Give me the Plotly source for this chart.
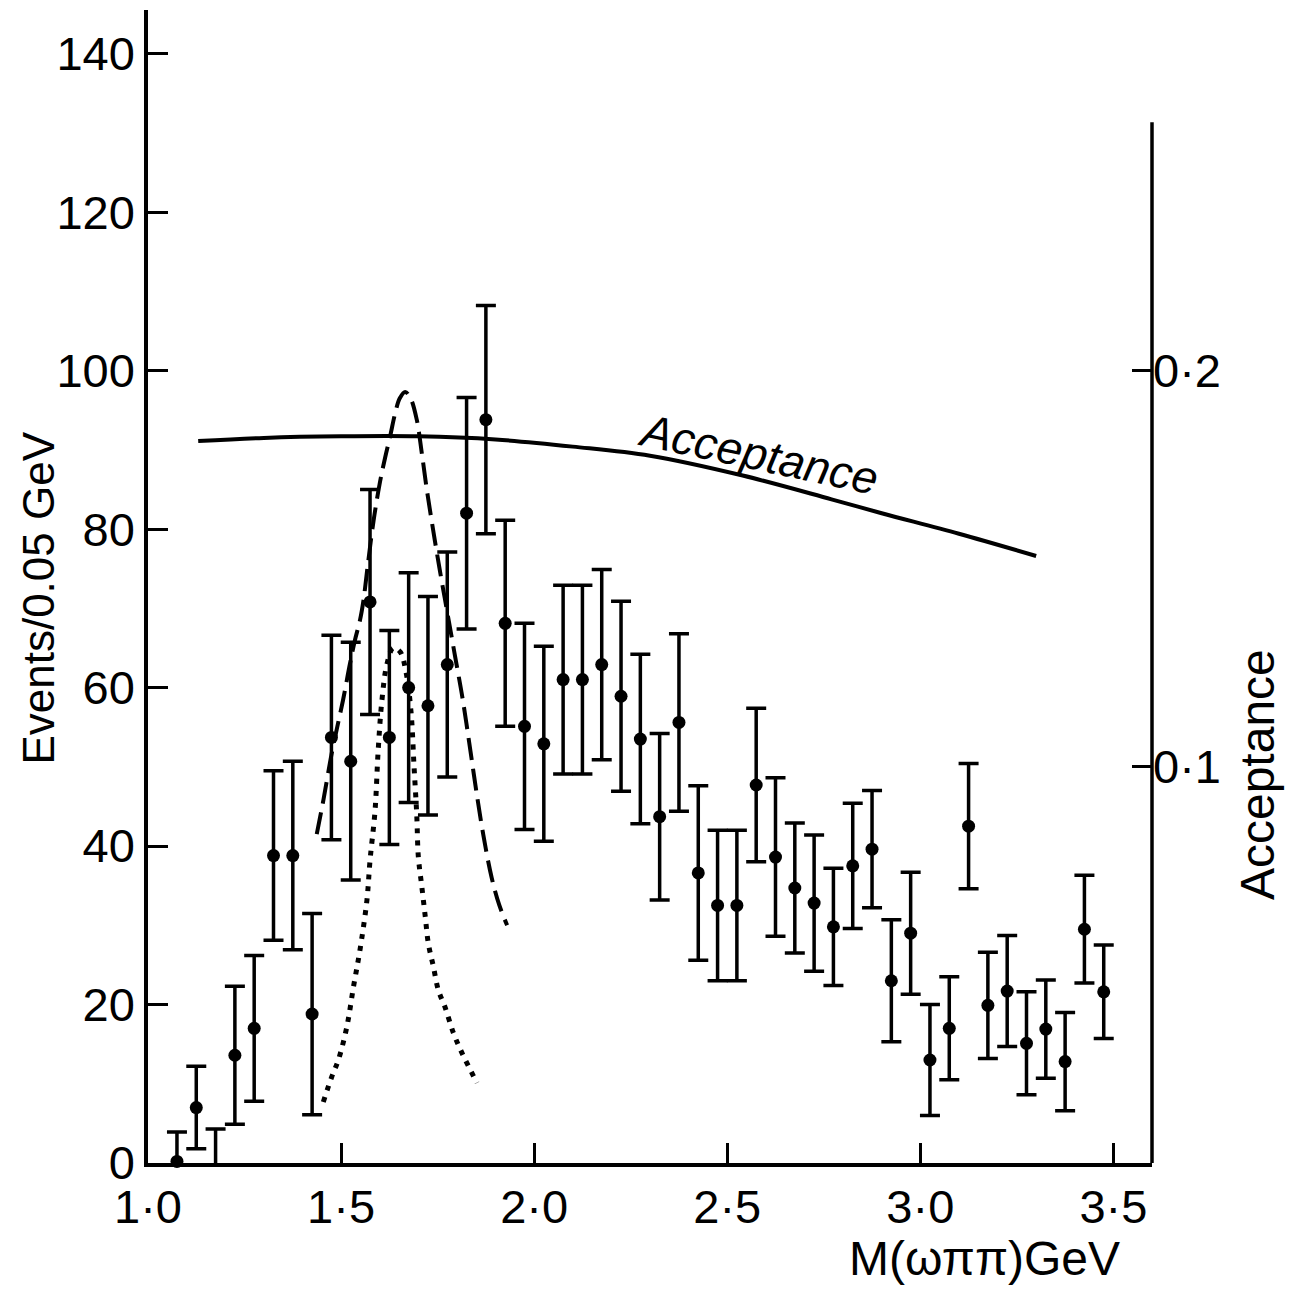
import plotly.graph_objects as go

# ---- data ----
mass = [1.075 + 0.05 * k for k in range(49)]
events = [0.2, 7.0, -1.5, 13.6, 17.0, 38.8, 38.8, 18.8, 53.7, 50.7,
          70.8, 53.7, 60.0, 57.7, 62.9, 82.0, 93.8, 68.1, 55.1, 52.9,
          61.0, 61.0, 62.9, 58.9, 53.5, 43.7, 55.6, 36.6, 32.5, 32.5,
          47.7, 38.6, 34.7, 32.8, 29.8, 37.5, 39.6, 23.0, 29.0, 13.0,
          17.0, 42.5, 19.9, 21.7, 15.1, 16.9, 12.8, 29.5, 21.6]
errors = [3.7, 5.2, 5.8, 8.7, 9.2, 10.7, 11.9, 12.7, 12.9, 15.0,
          14.2, 13.5, 14.5, 13.8, 14.2, 14.6, 14.4, 13.0, 13.0, 12.3,
          11.9, 11.9, 12.0, 12.0, 10.7, 10.5, 11.2, 11.0, 9.5, 9.5,
          9.7, 10.0, 8.2, 8.6, 7.4, 7.9, 7.4, 7.7, 7.7, 7.0,
          6.5, 7.9, 6.7, 7.0, 6.5, 6.2, 6.2, 6.8, 5.9]

dashed_mass = [1.437, 1.455, 1.475, 1.490, 1.505, 1.523, 1.536, 1.549, 1.558,
               1.568, 1.584, 1.601, 1.614, 1.627, 1.640, 1.652, 1.666, 1.680,
               1.696, 1.709, 1.722, 1.738, 1.755, 1.775, 1.795, 1.815, 1.835,
               1.850, 1.868, 1.890, 1.910, 1.930]
dashed_events = [41.5, 46.0, 51.5, 55.0, 58.4, 63.0, 66.0, 68.5, 71.0,
                 75.0, 81.0, 86.0, 89.0, 91.7, 94.6, 96.5, 97.3, 96.5,
                 93.8, 89.6, 85.0, 80.0, 75.0, 69.5, 64.0, 58.5, 52.0,
                 47.0, 41.5, 36.0, 32.5, 30.0]

dotted_mass = [1.454, 1.476, 1.493, 1.515, 1.532, 1.549, 1.567, 1.575, 1.588,
               1.596, 1.606, 1.619, 1.635, 1.653, 1.668, 1.681, 1.689, 1.696,
               1.700, 1.709, 1.718, 1.726, 1.739, 1.752, 1.769, 1.791, 1.813,
               1.852]
dotted_events = [7.7, 10.9, 13.0, 17.2, 22.2, 26.9, 33.2, 38.2, 44.5,
                 52.0, 58.5, 63.0, 65.0, 64.5, 62.0, 57.0, 50.0, 43.9,
                 38.7, 34.9, 31.1, 27.7, 24.8, 21.8, 19.7, 16.4, 13.9,
                 10.1]

acc_mass = [1.13, 1.30, 1.50, 1.70, 1.90, 2.10, 2.30, 2.54, 2.77, 2.90, 3.10, 3.30]
acceptance = [0.1822, 0.1830, 0.1834, 0.1834, 0.1826, 0.1808, 0.1785, 0.1735,
              0.1675, 0.1640, 0.1588, 0.1532]

x_ticks = [1.0, 1.5, 2.0, 2.5, 3.0, 3.5]
x_ticktext = ["1·0", "1·5", "2·0", "2·5", "3·0", "3·5"]
y_ticks = [0, 20, 40, 60, 80, 100, 120, 140]
y2_ticks = [0.1, 0.2]
y2_ticktext = ["0·1", "0·2"]

FONT = "Liberation Sans, Arial, sans-serif"
BLACK = "black"

fig = go.Figure()

fig.add_trace(go.Scatter(x=acc_mass, y=acceptance, yaxis="y2", mode="lines",
                         line=dict(color=BLACK, width=4, shape="spline"),
                         hoverinfo="skip"))
fig.add_trace(go.Scatter(x=dashed_mass, y=dashed_events, mode="lines",
                         line=dict(color=BLACK, width=4, dash="22px,9px", shape="spline"),
                         hoverinfo="skip"))
fig.add_trace(go.Scatter(x=dotted_mass, y=dotted_events, mode="lines",
                         line=dict(color=BLACK, width=5, dash="5px,7px", shape="spline"),
                         hoverinfo="skip"))
fig.add_trace(go.Scatter(x=mass, y=events, mode="markers",
                         marker=dict(color=BLACK, size=13, symbol="circle"),
                         error_y=dict(type="data", array=errors, visible=True,
                                      color=BLACK, thickness=3.5, width=10),
                         cliponaxis=False))

axis_common = dict(showgrid=False, zeroline=False, ticks="inside", ticklen=20,
                   tickwidth=3, tickcolor=BLACK,
                   tickfont=dict(family=FONT, size=47, color=BLACK))

# page has an 8px body margin: figure is shrunk so it fits the window
fig.update_layout(
    width=1283, height=1281,
    margin=dict(l=140, r=139, t=2, b=126),
    plot_bgcolor="white", paper_bgcolor="white",
    showlegend=False,
    xaxis=dict(range=[1.0, 3.6], tickvals=x_ticks, ticktext=x_ticktext,
               showline=True, linewidth=3.5, linecolor=BLACK, **axis_common),
    yaxis=dict(range=[0, 145.5], tickvals=y_ticks,
               showline=True, linewidth=3.5, linecolor=BLACK, **axis_common),
    yaxis2=dict(range=[0, 0.291], tickvals=y2_ticks, ticktext=y2_ticktext,
                overlaying="y", side="right", showline=False, **axis_common),
)

fig.add_shape(type="line", xref="paper", x0=1, x1=1, yref="y2", y0=0, y1=0.2627,
              line=dict(color=BLACK, width=3.5))

fig.add_annotation(text="Events/0.05 GeV", xref="paper", yref="paper",
                   x=-0.11, y=0.49, xanchor="center", yanchor="middle",
                   textangle=-90, showarrow=False,
                   font=dict(family=FONT, size=44, color=BLACK))
fig.add_annotation(text="Acceptance", xref="paper", yref="paper",
                   x=1.1046, y=0.3365, xanchor="center", yanchor="middle",
                   textangle=-90, showarrow=False,
                   font=dict(family=FONT, size=48, color=BLACK))
fig.add_annotation(text="M(ωππ)GeV", xref="paper", yref="paper",
                   x=0.8327, y=-0.083, xanchor="center", yanchor="middle",
                   showarrow=False,
                   font=dict(family=FONT, size=48, color=BLACK))
fig.add_annotation(text="<i>Acceptance</i>", x=2.58, y=89.5, xref="x", yref="y",
                   textangle=12, showarrow=False,
                   font=dict(family=FONT, size=46, color=BLACK))

fig.write_html("out.html")
